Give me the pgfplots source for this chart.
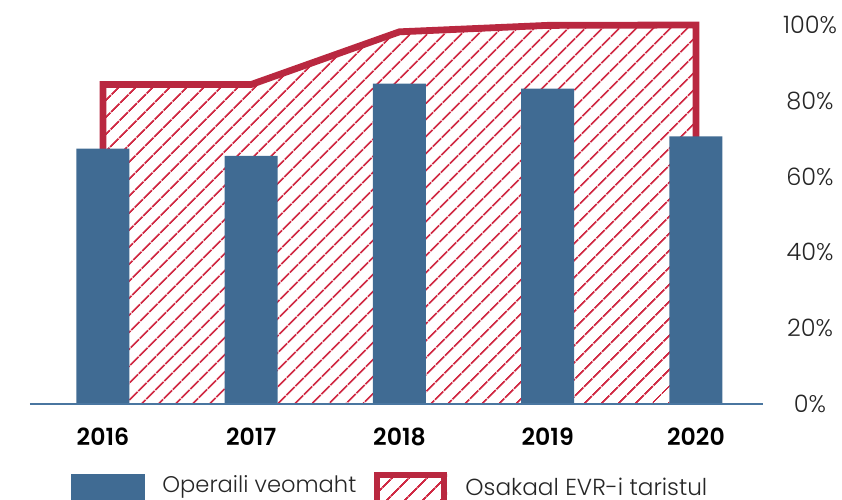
\documentclass[border=0pt]{standalone}
\usepackage{pgfplots}
\pgfplotsset{compat=1.18}
\usetikzlibrary{patterns.meta}
\usepackage{fontspec}
\setmainfont{Poppins}
\newfontfamily\lightfont{Poppins Light}
\newfontfamily\semifont{Poppins SemiBold}
\definecolor{barblue}{RGB}{64,107,147}
\definecolor{axblue}{RGB}{74,118,160}
\definecolor{outred}{RGB}{185,40,64}
\definecolor{hatchred}{RGB}{208,42,68}
\begin{document}
\begin{tikzpicture}
\useasboundingbox (-15pt,-47.5pt) rectangle (406pt,202pt);
\begin{axis}[
  scale only axis,
  width=366.5pt, height=189.5pt,
  xmin=-0.492, xmax=4.452,
  ymin=0, ymax=100,
  clip=false,
  axis x line=none,
  axis y line=right,
  y axis line style={draw=none},
  ytick={0,20,40,60,80,100},
  yticklabels={0\%,20\%,40\%,60\%,80\%,100\%},
  major tick length=0pt,
  yticklabel style={anchor=center, xshift=23.5pt, font=\lightfont\fontsize{12}{13}\selectfont, text=black!85},
  xtick=data,
  xticklabels={2016,2017,2018,2019,2020},
]
% hatched area (fill only)
\addplot[draw=none, pattern={Lines[angle=45, distance=6.5pt, line width=1.1pt]}, pattern color=hatchred]
  coordinates {(0,0)(0,84.3)(1,84.3)(2,98.2)(3,99.9)(4,100)(4,0)} -- cycle;
% outline
\addplot[outred, line width=3.4pt, line join=miter, mark=none]
  coordinates {(0,0)(0,84.3)(1,84.3)(2,98.2)(3,99.9)(4,100)(4,0)};
% bars
\addplot[ybar, bar width=26.5pt, fill=barblue, draw=none, bar shift=0pt]
  coordinates {(0,67.4)(1,65.5)(2,84.5)(3,83.2)(4,70.6)};
% baseline
\addplot[axblue, line width=1.1pt, mark=none] coordinates {(-0.492,0)(4.452,0)};
% year labels
\foreach \i/\y in {0/2016,1/2017,2/2018,3/2019,4/2020}{
  \edef\tmp{\noexpand\node[font=\noexpand\semifont\noexpand\fontsize{11.8}{13}\noexpand\selectfont, anchor=center] at (axis cs:\i,0) [yshift=-16.5pt] {\y};}
  \tmp
}
\end{axis}
% legend
\fill[barblue] (20.5pt,-35pt) rectangle (57.5pt,-50pt);
\node[anchor=west, inner sep=0pt, font=\lightfont\fontsize{11.3}{13}\selectfont, text=black!85] at (66pt,-41.5pt) {Operaili veomaht};
\fill[pattern={Lines[angle=45, distance=6.5pt, line width=1.1pt]}, pattern color=hatchred] (172pt,-35pt) rectangle (208.5pt,-50pt);
\draw[outred, line width=3pt] (173.5pt,-52pt) -- (173.5pt,-35.5pt) -- (207pt,-35.5pt) -- (207pt,-52pt);
\node[anchor=west, inner sep=0pt, font=\lightfont\fontsize{11.6}{13}\selectfont, text=black!85] at (217.5pt,-41.5pt) {Osakaal EVR-i taristul};
\end{tikzpicture}
\end{document}
